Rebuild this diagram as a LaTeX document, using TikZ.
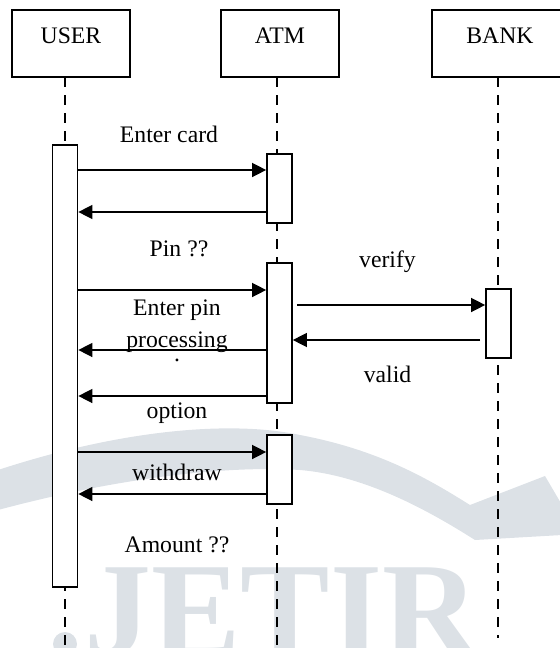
\documentclass[tikz,border=0pt]{standalone}
\usepackage{fontspec}
\setmainfont{Liberation Serif}
\usetikzlibrary{arrows.meta}
\definecolor{wm}{RGB}{220,225,230}
\begin{document}
\begin{tikzpicture}[x=0.5pt,y=-0.5pt,
  head/.style={draw, line width=1pt, fill=white, inner sep=0, minimum width=59pt, minimum height=33.5pt},
  act/.style={draw, line width=0.85pt, fill=white, inner sep=0, minimum width=12.5pt},
  life/.style={line width=0.9pt, dash pattern=on 5pt off 4pt},
  msg/.style={line width=0.7pt, -{Triangle[length=7pt,width=7pt]}},
  lbl/.style={font=\fontsize{11.85}{14}\selectfont, inner sep=0, anchor=base},
  ]
\useasboundingbox (0,0) rectangle (560,648);
% watermark
\fill[wm] (-2,470) .. controls (120,430) and (230,420) .. (300,435)
  .. controls (380,450) and (430,480) .. (470,505) -- (545,476) -- (562,505) -- (562,535) -- (475,540)
  .. controls (420,505) and (360,475) .. (300,470)
  .. controls (220,465) and (110,480) .. (-2,510) -- cycle;
\node[font=\fontsize{67}{67}\selectfont\bfseries, text=wm, anchor=base west, inner sep=0] (wmtext) at (84,655) {JETIR};
\fill[wm] (65,644) circle[radius=6pt];
% lifelines
\coordinate (ul0) at (65,77);  \coordinate (ul1) at (65,648);
\coordinate (al0) at (277,77); \coordinate (al1) at (277,648);
\coordinate (bl0) at (498,77); \coordinate (bl1) at (498,638);
\draw[life] (ul0) -- (ul1);
\draw[life] (al0) -- (al1);
\draw[life] (bl0) -- (bl1);
% header boxes
\node[head] (user) at (71,43.5) {};
\node[head] (atm) at (279.5,43.5) {};
\node[head, minimum width=68pt] (bank) at (500,43.5) {};
\node[lbl] (userT) at (71,43) {USER};
\node[lbl] (atmT) at (280,43) {ATM};
\node[lbl] (bankT) at (500,43) {BANK};
% activation boxes
\node[act, minimum height=221pt] (uact) at (65,366) {};
\node[act, minimum height=34.5pt] (aact1) at (279.5,188.5) {};
\node[act, minimum height=70pt] (aact2) at (279.5,333) {};
\node[act, minimum height=34.5pt] (aact3) at (279.5,469.5) {};
\node[act, minimum height=34.5pt] (bact) at (498.5,323.5) {};
% message rows
\coordinate (y1) at (0,170);
\coordinate (y2) at (0,212);
\coordinate (y3) at (0,290);
\coordinate (y6) at (0,350);
\coordinate (y7) at (0,396);
\coordinate (y8) at (0,452);
\coordinate (y9) at (0,494);
\coordinate (vs) at (297,305);
\coordinate (y4) at (0,305);
\coordinate (vl) at (480,340);
\coordinate (y5) at (0,340);
\draw[msg] (uact.east |- y1) -- (aact1.west |- y1);
\draw[msg] (aact1.west |- y2) -- (uact.east |- y2);
\draw[msg] (uact.east |- y3) -- (aact2.west |- y3);
\draw[msg] (vs) -- (bact.west |- y4);
\draw[msg] (vl) -- (aact2.east |- y5);
\draw[msg] (aact2.west |- y6) -- (uact.east |- y6);
\draw[msg] (aact2.west |- y7) -- (uact.east |- y7);
\draw[msg] (uact.east |- y8) -- (aact3.west |- y8);
\draw[msg] (aact3.west |- y9) -- (uact.east |- y9);
% labels
\node[lbl] (l1) at (169,142) {Enter card};
\node[lbl] (l2) at (179,256) {Pin ??};
\node[lbl] (l3) at (387.5,267) {verify};
\node[lbl] (l4) at (177,315) {Enter pin};
\node[lbl] (l5) at (177,347) {processing};
\node[lbl] (l5b) at (177,361) {.};
\node[lbl] (l6) at (387.5,382) {valid};
\node[lbl] (l7) at (177,418) {option};
\node[lbl] (l8) at (177,480) {withdraw};
\node[lbl] (l9) at (177,552) {Amount ??};
\end{tikzpicture}
\end{document}
